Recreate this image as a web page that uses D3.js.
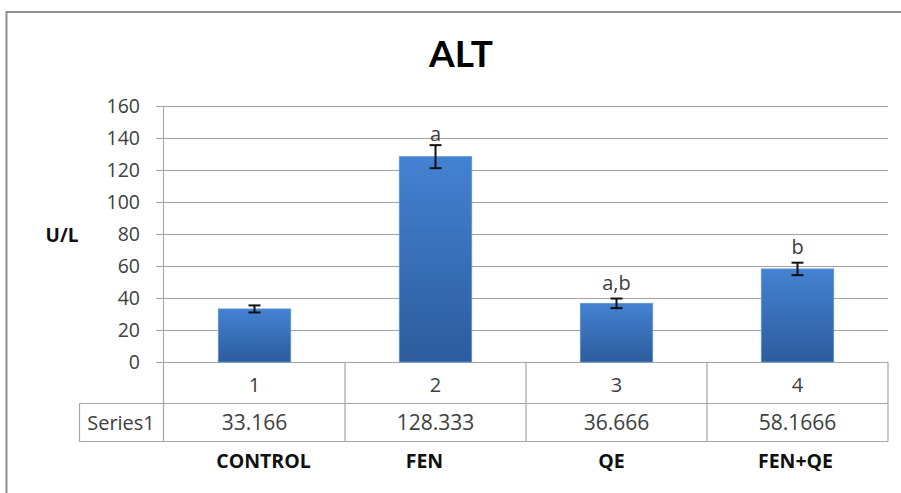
<!DOCTYPE html>
<html><head><meta charset="utf-8">
<script src="https://cdn.jsdelivr.net/npm/d3@7"></script>
<style>body{margin:0;background:#fff}svg{display:block}</style>
</head><body>
<svg id="c" width="901" height="493"></svg>
<script>
const categories = ["1","2","3","4"];
const groupNames = ["CONTROL","FEN","QE","FEN+QE"];
const values = [33.166, 128.333, 36.666, 58.1666];
const valueLabels = ["33.166","128.333","36.666","58.1666"];
const errors = [2.2, 7.2, 3.0, 3.9];
const letters = ["", "a", "a,b", "b"];
const yTicks = [0,20,40,60,80,100,120,140,160];
const seriesName = "Series1";

const svg = d3.select("#c");
const font = "'Open Sans', 'Liberation Sans', sans-serif";

// frame
svg.append("rect").attr("x",6.5).attr("y",12).attr("width",1000).attr("height",600)
  .attr("fill","#fff").attr("stroke","#8f8f8f").attr("stroke-width",2);

const x = d3.scaleBand().domain(categories).range([164,888]).padding(0);
const y = d3.scaleLinear().domain([0,160]).range([362,106]);

const defs = svg.append("defs");
const grad = defs.append("linearGradient").attr("id","bg").attr("x1",0).attr("y1",0).attr("x2",0).attr("y2",1);
grad.append("stop").attr("offset","0%").attr("stop-color","#4482d2");
grad.append("stop").attr("offset","100%").attr("stop-color","#2c5c9c");

// title
svg.append("text").attr("x",461).attr("y",67).attr("text-anchor","middle")
  .attr("font-family","Lato, 'Open Sans', sans-serif").attr("font-weight","bold")
  .attr("font-size",37).attr("fill","#000").text("ALT");

// grid
svg.append("g").selectAll("line").data(yTicks).join("line")
  .attr("x1",156).attr("x2",888).attr("y1",d=>y(d)+0.5).attr("y2",d=>y(d)+0.5)
  .attr("stroke","#a3a3a3").attr("stroke-width",1);

// y axis
const yAxis = d3.axisLeft(y).tickValues(yTicks).tickSize(0).tickPadding(0);
const ga = svg.append("g").attr("transform","translate(140,0)").call(yAxis);
ga.select(".domain").remove();
ga.selectAll("text").attr("font-family",font).attr("font-size",19.5).attr("fill","#404040").attr("dy","0.35em");

svg.append("line").attr("x1",163.5).attr("x2",163.5).attr("y1",y(160)).attr("y2",442)
  .attr("stroke","#a3a3a3");

// bars
const bw = x.bandwidth()*0.4;
svg.append("g").selectAll("rect").data(values).join("rect")
  .attr("x",(d,i)=>x(categories[i])+x.bandwidth()/2-bw/2)
  .attr("y",d=>y(d)).attr("width",bw).attr("height",d=>y(0)-y(d))
  .attr("fill","url(#bg)").attr("stroke","#5b93d8").attr("stroke-width",0.8);

// error bars
const eg = svg.append("g").attr("stroke","#111").attr("stroke-width",2);
values.forEach((v,i)=>{
  const cx = x(categories[i])+x.bandwidth()/2;
  const top = y(v+errors[i]), bot = y(v-errors[i]);
  eg.append("line").attr("x1",cx).attr("x2",cx).attr("y1",top).attr("y2",bot);
  eg.append("line").attr("x1",cx-6).attr("x2",cx+6).attr("y1",top).attr("y2",top);
  eg.append("line").attr("x1",cx-6).attr("x2",cx+6).attr("y1",bot).attr("y2",bot);
});

// letters
svg.append("g").selectAll("text").data(letters).join("text")
  .attr("x",(d,i)=>x(categories[i])+x.bandwidth()/2)
  .attr("y",(d,i)=>y(values[i]+errors[i])-(i===1?4:9))
  .attr("text-anchor","middle").attr("font-family",font).attr("font-size",20)
  .attr("fill","#404040").text(d=>d);

// data table
const tg = svg.append("g").attr("stroke","#a6a6a6").attr("stroke-width",1.2).attr("fill","none");
tg.append("line").attr("x1",79.5).attr("x2",888).attr("y1",403.5).attr("y2",403.5);
tg.append("line").attr("x1",79.5).attr("x2",888).attr("y1",441.5).attr("y2",441.5);
tg.append("line").attr("x1",79.5).attr("x2",79.5).attr("y1",403.5).attr("y2",441.5);
tg.selectAll(".v").data(categories).join("line").attr("class","v")
  .attr("x1",d=>x(d)+x.bandwidth()).attr("x2",d=>x(d)+x.bandwidth())
  .attr("y1",362).attr("y2",441.5);
tg.append("line").attr("x1",163.5).attr("x2",163.5).attr("y1",362).attr("y2",441.5);

svg.append("g").selectAll("text").data(categories).join("text")
  .attr("x",d=>x(d)+x.bandwidth()/2).attr("y",385).attr("dy","0.35em")
  .attr("text-anchor","middle").attr("font-family",font).attr("font-size",20)
  .attr("fill","#404040").text(d=>d);
svg.append("g").selectAll("text").data(valueLabels).join("text")
  .attr("x",(d,i)=>x(categories[i])+x.bandwidth()/2).attr("y",423).attr("dy","0.35em")
  .attr("text-anchor","middle").attr("font-family",font).attr("font-size",21)
  .attr("fill","#404040").text(d=>d);
svg.append("text").attr("x",121).attr("y",423).attr("dy","0.35em")
  .attr("text-anchor","middle").attr("font-family",font).attr("font-size",20)
  .attr("fill","#404040").text(seriesName);

// group names (slightly offset text boxes as in the original)
const nameShift = [9,-11,-5,-2];
svg.append("g").selectAll("text").data(groupNames).join("text")
  .attr("x",(d,i)=>x(categories[i])+x.bandwidth()/2+nameShift[i]).attr("y",461).attr("dy","0.35em")
  .attr("text-anchor","middle").attr("font-family",font).attr("font-weight","bold")
  .attr("font-size",19.5).attr("fill","#111").text(d=>d);

// y label
svg.append("text").attr("x",62).attr("y",235).attr("dy","0.35em").attr("text-anchor","middle")
  .attr("font-family",font).attr("font-weight","bold").attr("font-size",19)
  .attr("fill","#111").text("U/L");
</script>
</body></html>
